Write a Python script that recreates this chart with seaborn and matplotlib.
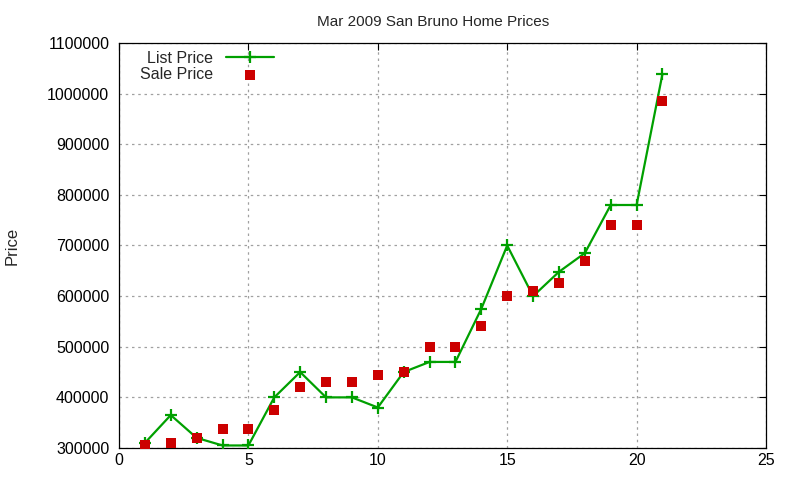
import numpy as np
import pandas as pd
import matplotlib
matplotlib.use("Agg")
import matplotlib.pyplot as plt
import seaborn as sns

home = list(range(1, 22))
list_price = [310000, 365000, 320000, 305000, 305000, 400000, 450000, 400000, 400000, 380000,
              450000, 470000, 470000, 575000, 700000, 600000, 648000, 685000, 780000, 780000, 1039000]
sale_price = [305000, 310000, 320000, 338000, 338000, 375000, 420000, 430000, 430000, 445000,
              450000, 500000, 500000, 540000, 600000, 610000, 625000, 670000, 740000, 740000, 985000]

df = pd.DataFrame({"home": home, "list": list_price, "sale": sale_price})

sns.set_style("white")
plt.rcParams['font.family'] = ['Liberation Sans', 'DejaVu Sans']

fig = plt.figure(figsize=(8, 4.8), dpi=100)
ax = fig.add_axes([119 / 800, 1 - 448 / 480, (766 - 119) / 800, (448 - 43) / 480])

sns.lineplot(data=df, x="home", y="list", ax=ax, color="#00a000", lw=1.6,
             marker="+", markersize=9, markeredgewidth=1.6, markeredgecolor="#00a000",
             label="List Price", zorder=3)
sns.scatterplot(data=df, x="home", y="sale", ax=ax, color="#cc0000", marker="s",
                s=45, linewidth=0, label="Sale Price", zorder=4)

ax.set_xlim(0, 25)
ax.set_ylim(300000, 1100000)
ax.set_xticks(range(0, 26, 5))
ax.set_yticks(range(300000, 1100001, 100000))
ax.ticklabel_format(style="plain", axis="y")
ax.grid(True, color="#a0a0a0", linestyle=(0, (2, 3)), linewidth=0.9)
ax.tick_params(direction="in", length=5, labelsize=11.5, colors="black", top=True, right=True)
ax.tick_params(axis="y", pad=7)
for s in ax.spines.values():
    s.set_color("black")
    s.set_linewidth(0.9)

ax.set_xlabel("")
ax.set_ylabel("Price", fontsize=12)
ax.yaxis.set_label_coords(-(119 - 20) / 647, 0.5)
ax.set_title("Mar 2009 San Bruno Home Prices", fontsize=11, pad=12, x=0.486)

ax.legend(loc="upper left", frameon=False, markerfirst=False, fontsize=11.5,
          handlelength=3, borderaxespad=0.1, labelspacing=0.05,
          bbox_to_anchor=(0.02, 1.0))

fig.savefig("out.png", dpi=100)
